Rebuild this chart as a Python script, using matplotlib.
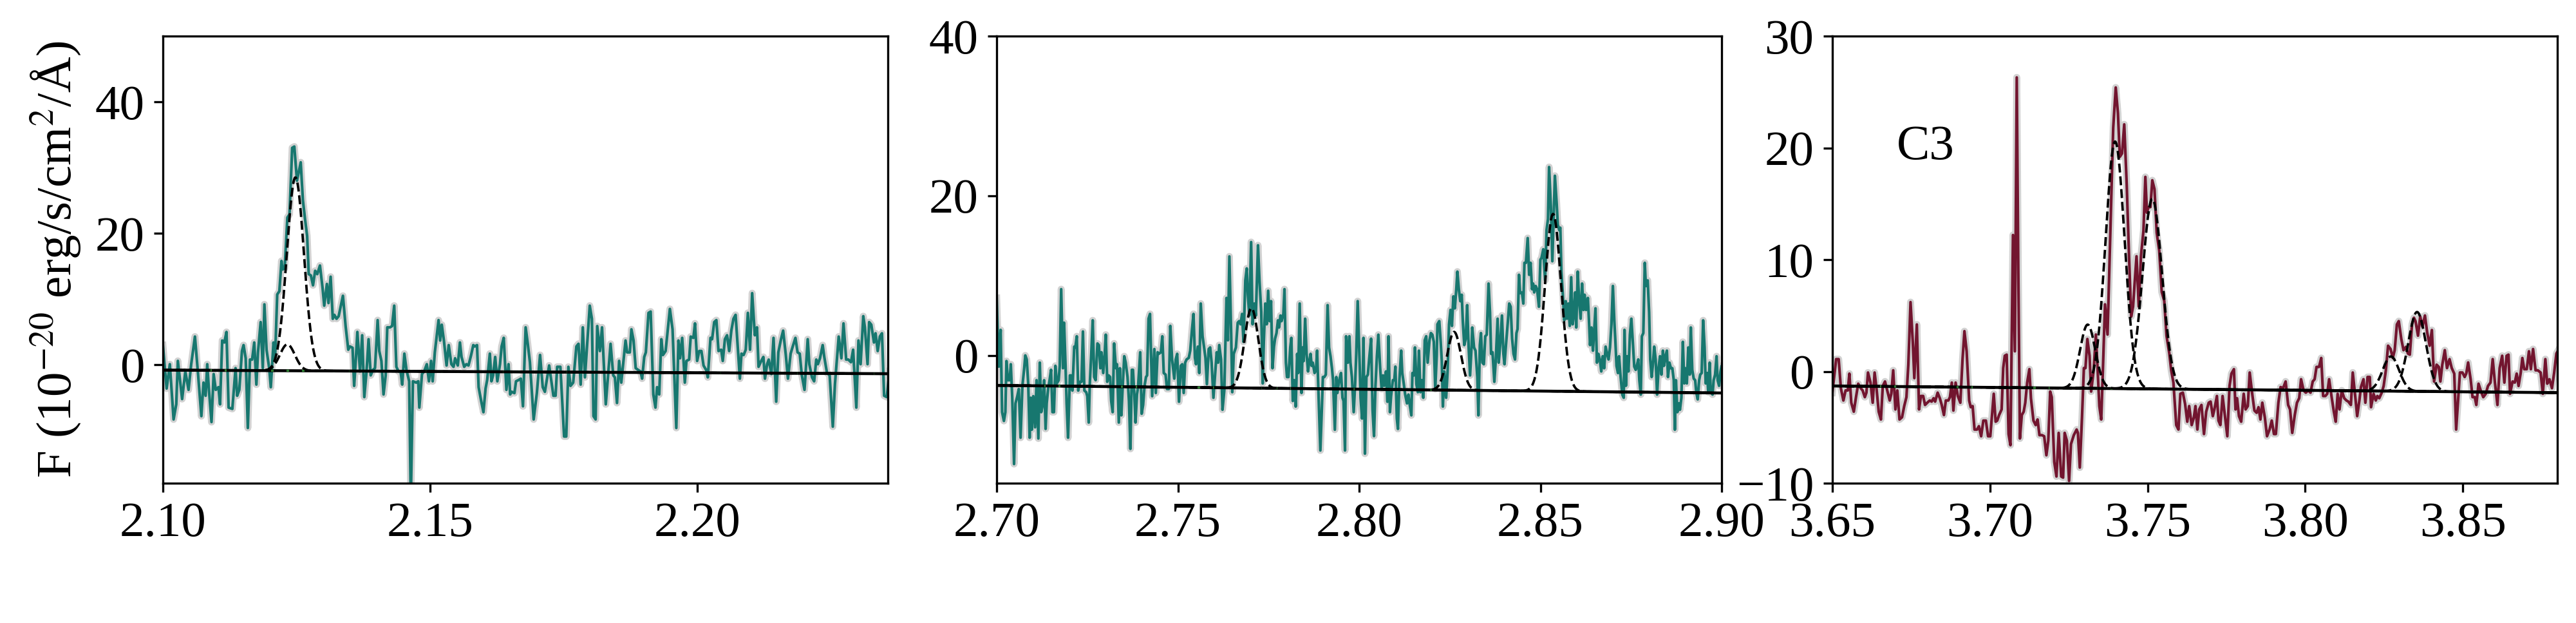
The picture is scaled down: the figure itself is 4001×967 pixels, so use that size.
import matplotlib
matplotlib.use("Agg")
import matplotlib.pyplot as plt
import numpy as np

# ---------------- data ----------------
# Panel 1 : 2.10 - 2.236 micron
wave1 = [2.1000, 2.1007, 2.1013, 2.1020, 2.1025, 2.1028, 2.1036, 2.1042, 2.1048, 2.1053,
         2.1060, 2.1066, 2.1072, 2.1076, 2.1080, 2.1083, 2.1086, 2.1091, 2.1095, 2.1099,
         2.1104, 2.1107, 2.1111, 2.1115, 2.1119, 2.1123, 2.1130, 2.1136, 2.1139, 2.1143,
         2.1148, 2.1151, 2.1155, 2.1159, 2.1163, 2.1167, 2.1171, 2.1175, 2.1178, 2.1183,
         2.1187, 2.1190, 2.1194, 2.1199, 2.1202, 2.1207, 2.1210, 2.1214, 2.1218, 2.1222,
         2.1224, 2.1228, 2.1233, 2.1237, 2.1242, 2.1246, 2.1251, 2.1258, 2.1262, 2.1266,
         2.1270, 2.1273, 2.1277, 2.1281, 2.1285, 2.1289, 2.1294, 2.1299, 2.1302, 2.1307,
         2.1310, 2.1314, 2.1318, 2.1321, 2.1325, 2.1329, 2.1337, 2.1342, 2.1347, 2.1350,
         2.1355, 2.1358, 2.1361, 2.1364, 2.1369, 2.1373, 2.1377, 2.1381, 2.1385, 2.1389,
         2.1393, 2.1397, 2.1402, 2.1405, 2.1409, 2.1413, 2.1417, 2.1420, 2.1425, 2.1429,
         2.1433, 2.1437, 2.1441, 2.1445, 2.1448, 2.1452, 2.1456, 2.1461, 2.1464, 2.1468,
         2.1474, 2.1478, 2.1480, 2.1485, 2.1489, 2.1494, 2.1498, 2.1502, 2.1505, 2.1509,
         2.1516, 2.1519, 2.1522, 2.1526, 2.1531, 2.1535, 2.1540, 2.1544, 2.1547, 2.1552,
         2.1556, 2.1559, 2.1564, 2.1568, 2.1572, 2.1577, 2.1581, 2.1584, 2.1588, 2.1591,
         2.1596, 2.1600, 2.1604, 2.1607, 2.1612, 2.1615, 2.1618, 2.1622, 2.1626, 2.1631,
         2.1634, 2.1638, 2.1643, 2.1647, 2.1650, 2.1653, 2.1658, 2.1661, 2.1666, 2.1670,
         2.1674, 2.1679, 2.1683,
         2.1687, 2.1694, 2.1700, 2.1706, 2.1711, 2.1715, 2.1723, 2.1731, 2.1735, 2.1738,
         2.1744, 2.1751, 2.1755, 2.1759, 2.1763, 2.1768, 2.1774, 2.1778, 2.1782, 2.1786,
         2.1790, 2.1799, 2.1803, 2.1806, 2.1810, 2.1813, 2.1818, 2.1822, 2.1829, 2.1838,
         2.1843, 2.1846, 2.1850, 2.1854, 2.1858, 2.1866, 2.1869, 2.1874, 2.1877, 2.1881,
         2.1885, 2.1890, 2.1894, 2.1897, 2.1901, 2.1904, 2.1909, 2.1913, 2.1918, 2.1922,
         2.1925, 2.1929, 2.1933, 2.1936, 2.1941, 2.1949, 2.1954, 2.1961, 2.1965, 2.1968,
         2.1972, 2.1977, 2.1980, 2.1985, 2.1988, 2.1993, 2.1996, 2.2000, 2.2004, 2.2008,
         2.2012, 2.2017, 2.2020, 2.2025, 2.2028, 2.2032, 2.2036, 2.2040, 2.2045, 2.2048,
         2.2052, 2.2056, 2.2060, 2.2064, 2.2068, 2.2072, 2.2080, 2.2083, 2.2087, 2.2091,
         2.2095, 2.2099, 2.2103, 2.2108, 2.2112, 2.2115, 2.2120, 2.2124, 2.2127, 2.2131,
         2.2134, 2.2139, 2.2143, 2.2148, 2.2152, 2.2157, 2.2161, 2.2166, 2.2170, 2.2175,
         2.2179, 2.2184, 2.2188, 2.2192, 2.2196, 2.2201, 2.2207, 2.2210, 2.2215, 2.2219,
         2.2223, 2.2226, 2.2230, 2.2235, 2.2238, 2.2243, 2.2248, 2.2254, 2.2258, 2.2265,
         2.2270, 2.2274, 2.2279, 2.2283, 2.2288, 2.2292, 2.2298, 2.2302, 2.2306, 2.2311,
         2.2314, 2.2319, 2.2322, 2.2326, 2.2331, 2.2334, 2.2338, 2.2342, 2.2346, 2.2350,
         2.2355, 2.2360]
flux1 = [3.0, -3.6, 0.1, -8.3, -6.0, 0.6, -5.2, -1.0, -3.8, 0.1,
         4.3, -1.6, -7.8, -2.7, -4.7, 0.1, -3.6, -8.7, -1.4, -3.8,
         -3.4, -6.0, 3.7, 3.4, 5.0, -6.5, -6.7, -0.5, -4.7, -3.8,
         2.1, 3.0, 1.0, -9.6, 0.8, 0.8, 3.4, -3.0, 1.9, 6.5,
         -0.5, 9.2, 2.3, -0.5, -3.4, 3.4, 1.0, 10.7, 11.2, 15.8,
         14.5, 14.7, 22.4, 22.9, 33.0, 33.2, 28.0, 30.8, 25.1, 22.2,
         19.6, 13.8, 13.6, 12.1, 14.3, 13.8, 15.1, 11.6, 9.0, 12.3,
         9.4, 13.4, 7.0, 7.6, 7.0, 7.4, 10.5, 5.9, 2.3, 2.8,
         2.6, -3.2, 0.6, 5.0, -1.0, 4.5, -4.9, -1.2, 3.9, -1.6,
         -0.8, -0.5, 6.8, 2.1, 0.6, -4.5, -1.6, 5.7, 5.7, 5.9,
         9.0, -0.3, -1.0, -1.0, -3.0, 1.7, -0.8, -2.5, -21.0, -2.5,
         -2.7, -2.5, -6.5, -1.4, -1.0, 0.1, -2.5, 0.6, -2.5, 1.9,
         6.8, 3.7, 6.1, 3.7, -0.1, 3.0, 0.1, -0.3, 1.0, -0.1,
         3.4, 1.2, -0.3, 0.1, -0.1, 1.5, 3.0, 2.8, 3.0, -3.4,
         -5.6, -7.2, -3.6, -2.3, 1.7, -2.5, -1.6, 1.2, -2.5, 0.1,
         2.8, 4.1, -3.8, 0.1, -4.5, -4.1, -4.3, -2.5, -2.3, -2.1,
         -6.3, 5.7, 3.2,
         0.4, -8.3, -4.3, 1.5, -3.4, -4.1, -0.1, -4.7, -4.7, -0.3,
         -0.3, -10.9, -10.9, -0.3, -3.2, -2.7, 2.8, 3.2, -3.0, 5.7,
         -1.9, 9.0, 7.0, -7.8, -8.3, 5.9, 2.1, 5.7, -6.0, 3.2,
         -1.6, -1.9, -5.8, 0.6, -2.7, 3.7, 1.9, 1.9, 5.4, 3.7,
         -0.5, -0.8, -1.0, -2.1, 1.2, 1.9, 7.9, 8.1, -4.5, -6.5,
         -3.4, -4.5, 3.9, 1.5, 2.1, 8.5, 5.4, -9.6, 3.7, 1.0,
         4.1, -2.7, 0.6, 0.8, 4.3, 4.1, 6.3, 0.6, 2.1, 2.1,
         -0.1, -0.8, -1.9, 4.1, 3.9, 6.5, 6.8, 2.1, 2.3, 0.6,
         3.9, 4.5, 2.1, 5.2, 7.0, 7.6, -2.1, 1.7, 1.5, 2.3,
         7.9, 2.3, 10.9, 4.5, 5.7, -0.3, 0.6, 1.2, -2.1, 0.1,
         0.8, -1.4, 4.1, -5.6, 1.9, 3.9, 5.2, 1.5, -2.1, 1.7,
         2.8, 4.1, 1.9, 1.7, -1.6, -3.8, 3.9, 0.1, -1.9, -2.5,
         0.8, 0.1, 1.0, 3.0, 1.2, -1.2, -1.6, -9.4, -2.9, 4.3,
         1.0, 6.3, 0.8, 0.8, 0.4, 2.3, -6.5, 3.7, 0.1, 7.4,
         5.7, 0.1, 6.5, 6.1, 3.4, 4.8, 2.1, 4.3, 4.8, -4.7,
         -4.9, -1.0]

# Panel 2 : 2.70 - 2.90 micron
wave2 = [2.7000, 2.7006, 2.7011, 2.7015, 2.7020, 2.7024, 2.7027, 2.7031, 2.7036, 2.7039,
         2.7043, 2.7048, 2.7052, 2.7057, 2.7061, 2.7066, 2.7071, 2.7076, 2.7079, 2.7083,
         2.7087, 2.7091, 2.7094, 2.7097, 2.7101, 2.7106, 2.7110, 2.7115, 2.7119, 2.7123,
         2.7126, 2.7131, 2.7135, 2.7138, 2.7142, 2.7146, 2.7150, 2.7154, 2.7158, 2.7162,
         2.7166, 2.7171, 2.7174, 2.7178, 2.7183, 2.7186, 2.7190, 2.7193, 2.7197, 2.7202,
         2.7205, 2.7209, 2.7214, 2.7217, 2.7221, 2.7225, 2.7230, 2.7234, 2.7238, 2.7242,
         2.7247, 2.7250, 2.7254, 2.7257, 2.7261, 2.7265, 2.7269, 2.7273, 2.7278, 2.7282,
         2.7286, 2.7289, 2.7294, 2.7298, 2.7301, 2.7305, 2.7309, 2.7313, 2.7316, 2.7320,
         2.7324, 2.7329, 2.7332, 2.7337, 2.7340, 2.7344, 2.7348, 2.7352, 2.7356, 2.7361,
         2.7365, 2.7369, 2.7373, 2.7376, 2.7380, 2.7383, 2.7387, 2.7390, 2.7396, 2.7400,
         2.7404, 2.7408, 2.7412, 2.7415, 2.7419, 2.7423, 2.7429, 2.7435, 2.7439, 2.7444,
         2.7447, 2.7453, 2.7457, 2.7461, 2.7466, 2.7470, 2.7475, 2.7479, 2.7484, 2.7490,
         2.7494, 2.7498, 2.7503, 2.7508, 2.7512, 2.7516, 2.7520, 2.7524, 2.7530, 2.7534,
         2.7539, 2.7543, 2.7547, 2.7550, 2.7555, 2.7559, 2.7563, 2.7568, 2.7572, 2.7576,
         2.7580, 2.7585, 2.7589, 2.7593, 2.7598, 2.7603, 2.7607, 2.7611, 2.7614, 2.7619,
         2.7623, 2.7628, 2.7634, 2.7638, 2.7642, 2.7647, 2.7650, 2.7654, 2.7660, 2.7665,
         2.7669,
         2.7673, 2.7677, 2.7681, 2.7686, 2.7690, 2.7693, 2.7697, 2.7702, 2.7706, 2.7711,
         2.7715, 2.7718, 2.7721, 2.7725, 2.7730, 2.7734, 2.7737, 2.7741, 2.7745, 2.7749,
         2.7753, 2.7757, 2.7761, 2.7765, 2.7768, 2.7772, 2.7776, 2.7779, 2.7783, 2.7786,
         2.7791, 2.7794, 2.7798, 2.7801, 2.7805, 2.7810, 2.7813, 2.7817, 2.7821, 2.7825,
         2.7829, 2.7832, 2.7836, 2.7841, 2.7844, 2.7847, 2.7851, 2.7855, 2.7859, 2.7862,
         2.7866, 2.7869, 2.7872, 2.7877, 2.7881, 2.7884, 2.7888, 2.7893, 2.7897, 2.7900,
         2.7904, 2.7908, 2.7913, 2.7917, 2.7921, 2.7925, 2.7928, 2.7933, 2.7937, 2.7940,
         2.7945, 2.7950, 2.7954, 2.7957, 2.7961, 2.7964, 2.7969, 2.7973, 2.7976, 2.7980,
         2.7985, 2.7989, 2.7992, 2.7996, 2.8001, 2.8004, 2.8008, 2.8012, 2.8016, 2.8020,
         2.8024, 2.8028, 2.8033, 2.8037, 2.8041, 2.8045, 2.8049, 2.8053, 2.8058, 2.8062,
         2.8066, 2.8069, 2.8074, 2.8078, 2.8081, 2.8085, 2.8088, 2.8093, 2.8097, 2.8100,
         2.8104, 2.8107, 2.8111, 2.8116, 2.8119, 2.8123, 2.8127, 2.8132, 2.8136, 2.8139,
         2.8144, 2.8147, 2.8151, 2.8154, 2.8158, 2.8162, 2.8165, 2.8169, 2.8173, 2.8177,
         2.8181, 2.8185, 2.8189, 2.8194, 2.8198, 2.8202, 2.8206, 2.8210, 2.8214, 2.8216,
         2.8221, 2.8225, 2.8228, 2.8231, 2.8235, 2.8240, 2.8244, 2.8248, 2.8252, 2.8256,
         2.8260, 2.8264, 2.8268, 2.8271, 2.8275, 2.8279, 2.8283, 2.8286, 2.8290, 2.8294,
         2.8298, 2.8302, 2.8306, 2.8310, 2.8312, 2.8317, 2.8321, 2.8326, 2.8329, 2.8333,
         2.8336,
         2.8340, 2.8344, 2.8348, 2.8352, 2.8357, 2.8361, 2.8364, 2.8368, 2.8373, 2.8377,
         2.8382, 2.8385, 2.8389, 2.8394, 2.8398, 2.8401, 2.8405, 2.8410, 2.8414, 2.8418,
         2.8422, 2.8426, 2.8430, 2.8434, 2.8437, 2.8441, 2.8444, 2.8449, 2.8453, 2.8456,
         2.8460, 2.8465, 2.8469, 2.8473, 2.8477, 2.8480, 2.8483, 2.8487, 2.8491, 2.8496,
         2.8500, 2.8503, 2.8508, 2.8513, 2.8517, 2.8521, 2.8524, 2.8529, 2.8533, 2.8536,
         2.8540, 2.8545, 2.8548, 2.8552, 2.8555, 2.8558, 2.8562, 2.8566, 2.8570, 2.8573,
         2.8577, 2.8581, 2.8585, 2.8589, 2.8592, 2.8596, 2.8599, 2.8603, 2.8607, 2.8611,
         2.8615, 2.8619, 2.8622, 2.8626, 2.8631, 2.8634, 2.8637, 2.8641, 2.8645, 2.8648,
         2.8652, 2.8656, 2.8660, 2.8664, 2.8668, 2.8672, 2.8676, 2.8680, 2.8684, 2.8688,
         2.8692, 2.8696, 2.8700, 2.8704, 2.8707, 2.8710, 2.8714, 2.8717, 2.8721, 2.8726,
         2.8730, 2.8732, 2.8736, 2.8739, 2.8743, 2.8747, 2.8751, 2.8755, 2.8759, 2.8763,
         2.8766, 2.8770, 2.8773, 2.8777, 2.8780, 2.8784, 2.8788, 2.8791, 2.8796, 2.8800,
         2.8803, 2.8807, 2.8810, 2.8814, 2.8818, 2.8822, 2.8826, 2.8830, 2.8834, 2.8838,
         2.8841, 2.8845, 2.8849, 2.8852, 2.8856, 2.8860, 2.8864, 2.8868, 2.8871, 2.8874,
         2.8878, 2.8882, 2.8885, 2.8889, 2.8893, 2.8897, 2.8900, 2.8904, 2.8908, 2.8912,
         2.8915, 2.8919, 2.8923, 2.8927, 2.8930, 2.8934, 2.8938, 2.8941, 2.8945, 2.8949,
         2.8953, 2.8956, 2.8960, 2.8963, 2.8967, 2.8970, 2.8975, 2.8978, 2.8982, 2.8986,
         2.8989, 2.8993, 2.8997, 2.9000, 2.9005]
flux2 = [7.2, -1.4, 3.2, -7.1, -8.2, -7.1, -0.7, -3.1, -3.1, -1.1,
         -5.3, -13.6, -6.0, -5.1, -4.2, -10.3, -3.8, -1.6, 0.0, -0.5,
         -3.5, -10.3, -5.3, -9.3, -5.1, -9.0, -3.1, -10.4, -0.9, -7.1,
         -6.4, -3.1, -9.2, -6.0, -4.2, -3.1, -1.8, -7.1, -7.1, -1.3,
         -3.5, -3.1, -1.3, 8.3, -1.6, 4.1, -1.3, -6.0, -10.3, -2.5,
         -2.5, -4.4, 1.1, 1.0, 2.4, -4.4, -3.3, -3.3, 3.0, -4.4,
         -4.6, -5.1, -8.4, -3.5, 0.2, 4.4, -2.7, -3.1, 1.5, 1.3,
         -1.6, 0.4, -2.2, 0.2, 2.6, -3.3, -2.5, -2.7, -5.7, -7.1,
         1.5, -1.6, -1.1, -8.4, -1.6, -7.5, -3.6, -0.1, -0.9, -2.7,
         -5.7, -11.7, -1.8, -1.8, -5.1, -8.4, -4.9, -4.0, 0.4, -7.3,
         -6.2, -3.8, -2.7, -2.5, 4.6, 5.2, -5.1, 0.8, -4.7, 0.4,
         0.2, 0.4, 2.4, -2.2, -2.4, -4.2, -4.2, 3.7, -0.5, -2.9,
         -0.5, 0.2, -5.8, -1.3, -1.1, -4.7, -0.9, -0.5, -0.3, 0.6,
         3.3, 5.2, -0.3, -1.1, 1.1, -2.2, 6.5, 2.4, 1.1, -0.3,
         -3.6, 0.8, 1.0, -0.9, -5.3, -2.2, 0.4, -0.9, 1.3, -0.5,
         -6.8, -4.4, 7.2, 1.9, 12.4, 2.6, -4.6, 0.2, 1.0, 4.1,
         4.3,
         3.9, 5.2, 1.7, 9.4, 10.9, 7.6, 5.0, 14.2, 3.9, 6.5,
         5.0, 9.4, 13.8, 9.4, 5.4, -3.5, 1.7, 6.5, 3.9, 8.1,
         4.3, 6.8, -1.6, 1.1, 2.1, 2.8, 4.4, 3.5, 5.0, 4.3,
         5.2, 8.3, -0.9, -2.7, -2.7, 1.0, 2.2, -5.7, -3.1, -6.4,
         0.2, -2.2, 6.5, -4.7, 1.0, -0.7, 4.6, 0.2, -2.0, -0.9,
         0.2, -1.3, -0.9, -2.2, -1.8, 0.6, -4.9, -11.9, -6.8, -2.7,
         -2.7, -2.4, 6.3, 1.0, -0.1, -1.6, -3.1, -9.3, -2.7, -4.7,
         -3.1, -2.2, -5.3, -5.7, -11.9, 2.4, -0.9, 2.4, -0.9, -2.7,
         -7.1, -3.5, 0.2, 6.8, -0.5, -5.3, -7.9, 2.2, -12.3, -2.7,
         -2.4, -0.3, 2.1, -6.8, -10.1, -3.8, -0.1, 2.6, -1.6, -4.2,
         -2.5, -3.8, -2.0, -5.8, 2.4, -7.1, -5.1, -3.1, -3.1, -1.4,
         -7.9, -9.2, -3.1, 0.6, -2.2, -3.5, -4.9, -6.0, -4.9, -6.0,
         -7.5, -2.2, -2.5, 1.0, -3.6, -4.6, 0.6, -4.6, -3.1, -5.3,
         1.9, 2.4, -0.9, 1.9, 2.8, 2.6, 1.7, -4.2, 0.0, 3.9,
         4.3, 1.7, -0.7, -6.4, -2.0, -5.3, -2.0, 3.9, 5.7, 3.7,
         7.4, 5.9, 8.3, 10.5, 8.3, 6.8, 7.6, 4.3, 1.3, 2.1,
         6.3, 1.1, -2.5, 1.0, 3.5, 1.0, 0.6, -2.7, -7.5, 1.3,
         2.8,
         -0.9, -1.1, 2.4, 2.6, 9.0, 5.4, 0.2, 0.4, -3.3, -0.5,
         4.6, -0.9, 1.3, 5.0, 0.2, -1.1, 1.3, 4.1, 6.5, 6.1,
         2.1, 0.2, -0.5, 2.8, 3.3, 10.1, 7.8, 7.9, 6.5, 11.6,
         11.6, 14.7, 10.1, 11.6, 8.3, 9.0, 7.9, 8.7, 8.3, 6.1,
         12.0, 12.2, 13.3, 9.4, 15.7, 17.1, 23.6, 18.6, 11.8, 16.4,
         22.5, 19.0, 16.4, 15.7, 16.0, 10.5, 7.6, 4.4, 6.8, 4.6,
         6.5, 3.7, 9.8, 3.9, 5.0, 7.9, 3.5, 10.5, 6.8, 4.6,
         9.0, 5.7, 7.6, 5.7, 7.2, 4.4, 1.3, 3.5, 0.6, 2.8,
         5.9, -0.9, 0.2, -0.5, -2.0, -0.1, -1.6, 1.1, 0.2, -0.5,
         1.0, 3.9, 8.7, 4.3, 1.7, -1.3, -2.2, -0.1, -2.5, -4.9,
         -5.3, 3.2, -3.8, -0.1, -2.0, 2.6, 4.6, 1.7, -1.4, -1.8,
         -1.3, -0.5, -3.1, -4.9, 2.4, 2.8, 11.6, 8.7, 9.4, 5.4,
         -0.5, -2.7, -1.3, 1.1, -0.5, -4.9, -1.6, -0.1, -2.4, 0.6,
         -1.3, -0.1, 0.6, -2.7, -0.9, -1.6, -1.6, -3.1, -9.3, -3.1,
         -7.1, -6.0, -6.8, -5.3, 1.7, -3.5, -1.6, -3.5, 1.0, -2.4,
         3.5, -1.8, -2.9, -3.1, -4.6, -5.5, -3.1, -2.4, -2.2, 4.4,
         1.0, -3.5, -2.2, -4.6, -0.9, -4.6, -4.9, -3.1, -2.4, -0.1,
         -3.1, -3.8, -2.0, -1.3, -2.0]

# Panel 3 : 3.65 - 3.88 micron
wave3 = [3.6500, 3.6512, 3.6520, 3.6527, 3.6535, 3.6542, 3.6549, 3.6554, 3.6560, 3.6568,
         3.6575, 3.6582, 3.6590, 3.6596, 3.6603, 3.6608, 3.6613, 3.6621, 3.6628, 3.6634,
         3.6640, 3.6647, 3.6654, 3.6660, 3.6667, 3.6674, 3.6682, 3.6687, 3.6693, 3.6700,
         3.6706, 3.6713, 3.6721, 3.6728, 3.6735, 3.6741, 3.6748, 3.6755, 3.6760, 3.6768,
         3.6775, 3.6781, 3.6788, 3.6794, 3.6801, 3.6809, 3.6815, 3.6821, 3.6826, 3.6834,
         3.6841, 3.6847, 3.6854, 3.6860, 3.6868, 3.6873, 3.6879, 3.6884, 3.6891, 3.6898,
         3.6906, 3.6913, 3.6919, 3.6926, 3.6934, 3.6939, 3.6945, 3.6951, 3.6959, 3.6965,
         3.6972, 3.6979, 3.6987, 3.6994, 3.7001, 3.7007, 3.7012, 3.7018, 3.7023, 3.7029,
         3.7037, 3.7042, 3.7047, 3.7053, 3.7059, 3.7065, 3.7073, 3.7079, 3.7085, 3.7090,
         3.7095, 3.7101, 3.7107, 3.7112, 3.7118, 3.7125, 3.7130, 3.7138, 3.7145, 3.7151,
         3.7157, 3.7165, 3.7172, 3.7179, 3.7185, 3.7191, 3.7196, 3.7204, 3.7211, 3.7218,
         3.7226, 3.7232, 3.7237, 3.7244, 3.7251, 3.7257, 3.7266, 3.7275, 3.7279, 3.7285,
         3.7292, 3.7298, 3.7303, 3.7309, 3.7316, 3.7321, 3.7329, 3.7336, 3.7341, 3.7347,
         3.7353, 3.7358, 3.7365, 3.7373, 3.7384, 3.7391, 3.7399, 3.7406, 3.7412, 3.7419,
         3.7426, 3.7434, 3.7441, 3.7448, 3.7454, 3.7459, 3.7465, 3.7472, 3.7479, 3.7487,
         3.7493, 3.7498, 3.7503, 3.7509, 3.7515, 3.7522, 3.7529, 3.7537, 3.7545, 3.7553,
         3.7560, 3.7569, 3.7575, 3.7582, 3.7591, 3.7598, 3.7604, 3.7612, 3.7619, 3.7626,
         3.7632, 3.7640, 3.7647,
         3.7652, 3.7658, 3.7664, 3.7671, 3.7679, 3.7686, 3.7694, 3.7700, 3.7707, 3.7712,
         3.7720, 3.7725, 3.7731, 3.7738, 3.7746, 3.7753, 3.7760, 3.7766, 3.7774, 3.7779,
         3.7784, 3.7790, 3.7797, 3.7805, 3.7811, 3.7818, 3.7824, 3.7832, 3.7839, 3.7846,
         3.7852, 3.7858, 3.7864, 3.7872, 3.7879, 3.7887, 3.7894, 3.7901, 3.7907, 3.7915,
         3.7922, 3.7930, 3.7938, 3.7946, 3.7952, 3.7959, 3.7967, 3.7974, 3.7981, 3.7987,
         3.7995, 3.8002, 3.8010, 3.8017, 3.8024, 3.8030, 3.8036, 3.8044, 3.8051, 3.8057,
         3.8064, 3.8070, 3.8076, 3.8084, 3.8091, 3.8097, 3.8103, 3.8109, 3.8116, 3.8124,
         3.8131, 3.8137, 3.8145, 3.8151, 3.8158, 3.8165, 3.8172, 3.8177, 3.8185, 3.8191,
         3.8198, 3.8205, 3.8209, 3.8217, 3.8224, 3.8229, 3.8235, 3.8243, 3.8249, 3.8256,
         3.8263, 3.8271, 3.8278, 3.8284, 3.8291, 3.8297, 3.8305, 3.8312, 3.8320, 3.8326,
         3.8332, 3.8339, 3.8345, 3.8350, 3.8358, 3.8365, 3.8372, 3.8380, 3.8387, 3.8395,
         3.8402, 3.8409, 3.8417, 3.8424, 3.8429, 3.8435, 3.8443, 3.8450, 3.8458, 3.8465,
         3.8473, 3.8479, 3.8486, 3.8491, 3.8499, 3.8506, 3.8511, 3.8517, 3.8525, 3.8531,
         3.8538, 3.8543, 3.8550, 3.8558, 3.8565, 3.8573, 3.8580, 3.8588, 3.8595, 3.8602,
         3.8610, 3.8617, 3.8625, 3.8632, 3.8639, 3.8645, 3.8650, 3.8658, 3.8665, 3.8671,
         3.8677, 3.8684, 3.8689, 3.8695, 3.8703, 3.8710, 3.8716, 3.8723, 3.8731, 3.8738,
         3.8747, 3.8754, 3.8762, 3.8768, 3.8775, 3.8783, 3.8790, 3.8797, 3.8805]
flux3 = [-1.9, 1.1, 1.1, -1.5, -2.6, -1.7, -1.7, -0.2, -2.8, -3.6,
         -2.3, -1.1, -1.5, -1.7, -2.3, -1.9, -0.1, -1.0, -2.8, -0.1,
         -1.5, -3.6, -4.3, -1.3, -0.9, -1.7, -2.6, -2.0, 0.1, -3.4,
         -1.7, -4.3, -4.1, -3.1, -2.3, 0.6, 6.2, 2.7, -0.6, 4.2,
         -3.4, -2.2, -2.2, -3.0, -2.8, -2.6, -2.7, -2.4, -2.7, -1.9,
         -2.4, -3.0, -3.9, -2.6, -2.6, -2.3, -1.0, -3.5, -1.0, -2.2,
         -2.8, 1.1, 3.6, 1.8, -2.6, -3.2, -3.1, -5.2, -5.2, -4.9,
         -5.8, -4.4, -4.4, -5.8, -5.8, -3.7, -2.0, -4.5, -4.4, -3.9,
         -3.4, 0.3, 1.4, 1.5, -5.6, -6.6, 12.2, 1.8, 26.3, 8.7,
         -6.0, -3.9, -3.6, -2.8, -1.0, 0.2, -2.4, -4.4, -4.8, -4.3,
         -5.7, -5.7, -5.8, -7.5, -6.2, -1.8, -2.3, -8.1, -9.4, -5.5,
         -9.4, -9.5, -5.5, -6.2, -9.8, -6.5, -5.7, -5.2, -5.5, -8.6,
         -4.1, 0.3, 0.3, 2.9, 1.4, -1.8, 0.1, 3.3, 0.5, -3.1,
         -4.3, -0.1, 6.0, 3.3, 14.7, 21.8, 25.4, 23.1, 19.2, 19.5,
         22.1, 16.6, 10.5, 4.9, 5.8, 7.9, 10.3, 5.8, 10.3, 12.6,
         17.4, 14.2, 14.7, 14.7, 17.1, 16.3, 12.4, 10.8, 7.1, 6.3,
         3.2, 1.6, 0.1, -1.0, -4.8, -5.2, -2.0, -1.9, -2.9, -4.5,
         -3.1, -4.8, -4.1,
         -3.1, -5.2, -3.4, -3.0, -5.6, -3.6, -2.8, -2.7, -4.0, -3.4,
         -2.2, -4.4, -4.8, -2.2, -4.1, -5.8, -1.3, -0.2, 0.2, -3.4,
         -2.4, -4.0, -4.5, -2.0, -3.4, -3.1, -0.1, -2.0, -3.5, -3.7,
         -3.2, -4.3, -2.8, -4.1, -5.8, -5.2, -4.4, -5.6, -5.6, -2.8,
         -1.4, -1.5, -0.9, -3.0, -3.4, -5.5, -3.9, -2.8, -2.4, -0.7,
         -1.7, -1.9, -1.7, -1.9, -0.9, -0.7, 0.4, 0.4, 1.2, -2.2,
         -2.2, -2.0, -0.7, -2.3, -3.6, -4.5, -2.0, -3.4, -1.7, -2.4,
         -2.6, -2.7, -3.0, -0.1, -2.0, -4.0, -2.6, -1.4, -0.7, -2.8,
         -0.5, -0.5, -3.2, -2.0, -2.6, -2.2, -2.4, -1.9, -1.3, 0.1,
         2.3, 2.0, 1.2, 1.9, 4.2, 4.5, 2.9, 1.9, 2.2, 1.6,
         1.5, 4.2, 4.8, 4.5, 3.2, 4.9, 4.0, 5.0, 3.5, 2.3,
         3.7, -0.9, 0.6, 0.4, -0.9, 0.6, 1.9, 0.3, 1.1, 0.3,
         -0.2, -5.2, -2.2, -0.1, -0.1, -0.5, -0.2, 0.8, -0.7, -2.3,
         -2.3, -3.0, -1.1, -1.8, -2.3, -2.0, -1.3, -1.0, 1.1, -1.0,
         -3.0, 0.3, 1.4, -1.0, 1.4, 1.5, -2.0, -0.9, -1.0, -0.2,
         -1.3, -0.1, 1.2, 0.2, 0.2, 1.8, 0.2, 2.0, 0.1, 0.1,
         -0.1, -2.0, 1.1, -1.1, -0.7, -1.5, -0.1, 1.6, 2.0]

# continuum (linear) endpoints per panel
cont1_wave = [2.100, 2.236]
cont1_flux = [-0.80, -1.35]
cont2_wave = [2.700, 2.900]
cont2_flux = [-3.75, -4.70]
cont3_wave = [3.650, 3.880]
cont3_flux = [-1.30, -1.90]

# Gaussian line components: centre (micron), amplitude, sigma (micron)
lines1_center = [2.1248, 2.1233]
lines1_amp = [29.4, 4.0]
lines1_sigma = [0.0016, 0.0014]
lines2_center = [2.7703, 2.8262, 2.8535]
lines2_amp = [10.0, 7.3, 22.2]
lines2_sigma = [0.0019, 0.0019, 0.0022]
lines3_center = [3.7310, 3.7397, 3.7515, 3.8272, 3.8355]
lines3_amp = [5.7, 22.1, 17.0, 3.1, 7.1]
lines3_sigma = [0.0024, 0.0030, 0.0031, 0.0026, 0.0028]

xlims = [(2.10, 2.2357), (2.70, 2.90), (3.65, 3.88)]
ylims = [(-18, 50), (-16, 40), (-10, 30)]
xticks = [[2.10, 2.15, 2.20], [2.70, 2.75, 2.80, 2.85, 2.90],
          [3.65, 3.70, 3.75, 3.80, 3.85]]
yticks = [[0, 20, 40], [0, 20, 40], [-10, 0, 10, 20, 30]]
green_range = [(2.10, 2.2357), (2.70, 2.90), (3.65, 3.765)]
label3 = "C3"
ylabel_text = r'F (10$^{-20}$ erg/s/cm$^2$/Å)'

# ---------------- style ----------------
plt.rcParams['font.family'] = ['Liberation Serif', 'DejaVu Serif']
plt.rcParams['mathtext.fontset'] = 'stix'
plt.rcParams['font.size'] = 18.5
plt.rcParams['axes.unicode_minus'] = True

teal = '#17776f'
maroon = '#72152f'

fig = plt.figure(figsize=(4001 / 300, 967 / 300), dpi=300)
lefts = [253 / 4001, 1548 / 4001, 2846 / 4001]
width = 1126 / 4001
bottom = 1 - 750 / 967
height = 694 / 967
axes = [fig.add_axes([l, bottom, width, height]) for l in lefts]

panels = [
    (wave1, flux1, teal, cont1_wave, cont1_flux, lines1_center, lines1_amp, lines1_sigma),
    (wave2, flux2, teal, cont2_wave, cont2_flux, lines2_center, lines2_amp, lines2_sigma),
    (wave3, flux3, maroon, cont3_wave, cont3_flux, lines3_center, lines3_amp, lines3_sigma),
]

for i, (ax, p) in enumerate(zip(axes, panels)):
    wv, fl, col, cw, cf, lc, la, ls = p
    wv = np.asarray(wv)
    fl = np.asarray(fl)
    # grey uncertainty halo
    ax.plot(wv, fl, color='#d2d2d2', lw=2.6, solid_joinstyle='round', zorder=1)
    ax.plot(wv, fl, color=col, lw=1.0, solid_joinstyle='round', zorder=2)
    # continuum
    grid = np.linspace(xlims[i][0], xlims[i][1], 3000)
    cont = np.interp(grid, cw, cf)
    ax.plot(grid, cont, color='k', lw=1.1, zorder=3)
    g0, g1 = green_range[i]
    m = (grid >= g0) & (grid <= g1)
    ax.plot(grid[m], cont[m], color='#2e7d32', lw=0.8, ls=(0, (1.2, 6)), zorder=4)
    # gaussian components
    for c, a, s in zip(lc, la, ls):
        model = cont + a * np.exp(-0.5 * ((grid - c) / s) ** 2)
        ax.plot(grid, model, color='k', lw=0.9, ls='--', zorder=5)
    ax.set_xlim(*xlims[i])
    ax.set_ylim(*ylims[i])
    ax.set_xticks(xticks[i])
    ax.set_yticks(yticks[i])
    ax.xaxis.set_major_formatter(matplotlib.ticker.FormatStrFormatter('%.2f'))
    ax.tick_params(direction='out', length=3.4, width=0.8)

axes[0].set_ylabel(ylabel_text)
axes[0].yaxis.set_label_coords(-0.111, 0.5)
axes[2].text(3.6704, 19.0, label3, ha='left', va='baseline', fontsize=18.5)

fig.savefig('out.png', dpi=300)
